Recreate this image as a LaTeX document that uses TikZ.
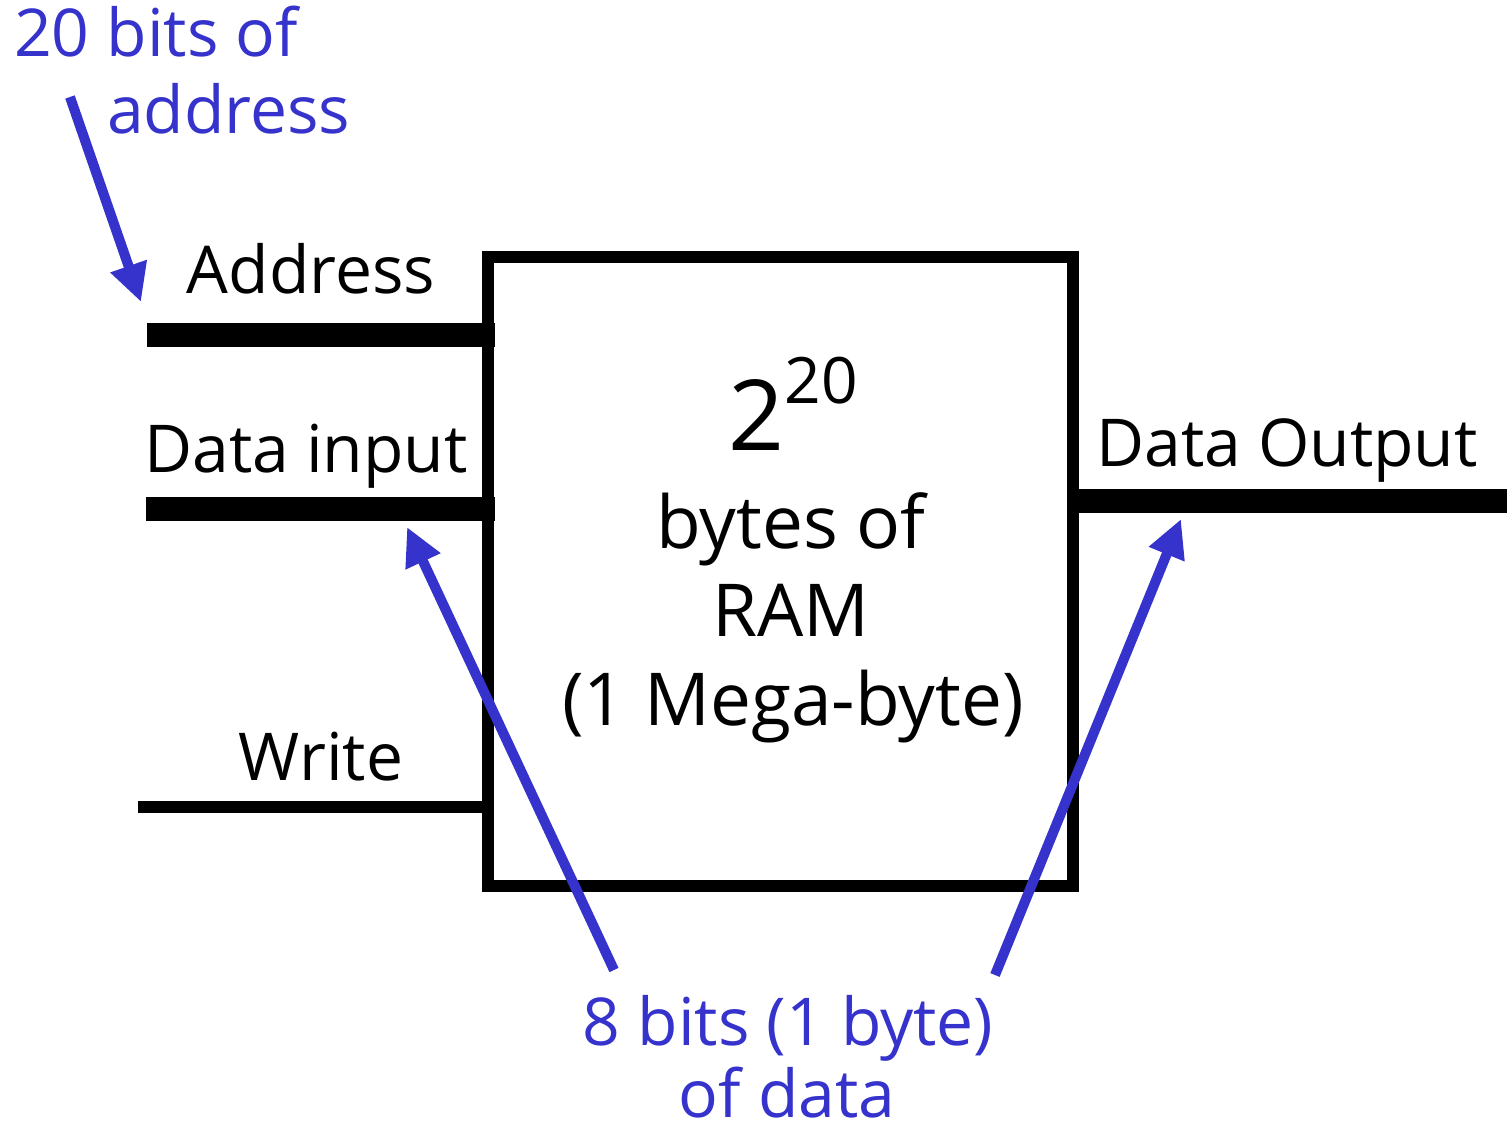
\documentclass[tikz,border=0pt]{standalone}
\usepackage{fontspec}
\setmainfont{Open Sans}
\usetikzlibrary{arrows.meta,calc}
\definecolor{noteblue}{RGB}{53,51,204}
\tikzset{
  lbl/.style={font=\fontsize{66}{78}\selectfont, inner sep=0pt, anchor=base},
  boxtxt/.style={lbl, font=\fontsize{73}{86}\selectfont},
  note/.style={lbl, text=noteblue},
  thickbus/.style={line width=24pt, line cap=butt},
  thinwire/.style={line width=12pt, line cap=butt},
  pointer/.style={draw=noteblue, line width=10pt,
    -{Triangle[length=38pt, width=36pt]}, noteblue},
}
\begin{document}
\begin{tikzpicture}[x=1pt, y=-1pt]
\useasboundingbox (0,0) rectangle (1507,1132);

% RAM block
\node[draw, line width=12pt, minimum width=585pt, minimum height=628.5pt,
      outer sep=0pt, inner sep=0pt] (ram) at (780.5,571.25) {};

% contents of the block
\node[lbl] (pow) at (793,450) {\fontsize{98}{110}\selectfont 2\raisebox{47pt}{\fontsize{64}{70}\selectfont 20}};
\node[boxtxt] (bytes) at (791,548) {bytes of};
\node[boxtxt] (ramtxt) at (791,636) {RAM};
\node[boxtxt] (mega) at (793,725) {(1 Mega-byte)};

% port wires
\coordinate (addrL) at (147,335);
\coordinate (addrR) at (495,335);
\coordinate (dinL) at (146,509);
\coordinate (dinR) at (495,509);
\coordinate (wrL) at (138,807);
\coordinate (wrR) at (494,807);
\coordinate (doutL) at (1073,501);
\coordinate (doutR) at (1507,501);
\draw[thickbus] (addrL) -- (addrR);
\draw[thickbus] (dinL) -- (dinR);
\draw[thinwire] (wrL) -- (wrR);
\draw[thickbus] (doutL) -- (doutR);

% port labels
\node[lbl] (addrlbl) at (311,293) {Address};
\node[lbl] (dinlbl) at (306,472) {Data input};
\node[lbl] (wrlbl) at (321,780) {Write};
\node[lbl] (doutlbl) at (1287,466) {Data Output};

% annotations
\node[note, anchor=base west] (n1a) at (14,57) {20 bits of};
\node[note, anchor=base west] (n1b) at (107,133) {address};
\node[note] (n2a) at (788,1045) {8 bits (1 byte)};
\node[note] (n2b) at (787,1117) {of data};

\coordinate (p1t) at (70,97);
\coordinate (p1h) at (141,302);
\coordinate (p2t) at (614,970);
\coordinate (p2h) at (407,527);
\coordinate (p3t) at (995,975);
\coordinate (p3h) at (1181,519);
\draw[pointer] (p1t) -- (p1h);
\draw[pointer] (p2t) -- (p2h);
\draw[pointer] (p3t) -- (p3h);
\end{tikzpicture}
\end{document}
